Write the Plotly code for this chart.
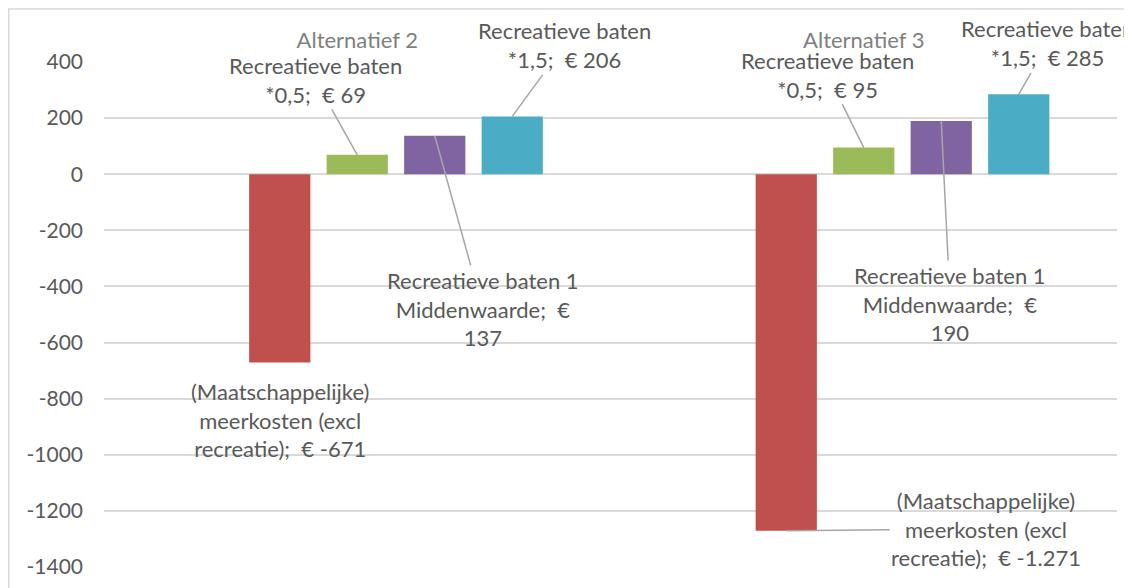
import plotly.graph_objects as go

categories = ["Alternatief 2", "Alternatief 3"]
series_names = ["", "(Maatschappelijke) meerkosten (excl recreatie)", "Recreatieve baten *0,5",
                "Recreatieve baten 1 Middenwaarde", "Recreatieve baten *1,5"]
empty_vals = [None, None]
meerkosten = [-671, -1271]
baten_05 = [69, 95]
baten_mid = [137, 190]
baten_15 = [206, 285]
label_meerkosten = ["(Maatschappelijke)<br>meerkosten (excl<br>recreatie);\u00a0 € -671",
                    "(Maatschappelijke)<br>meerkosten (excl<br>recreatie);\u00a0 € -1.271"]
label_05 = ["Recreatieve baten<br>*0,5;\u00a0 € 69", "Recreatieve baten<br>*0,5;\u00a0 € 95"]
label_mid = ["Recreatieve baten 1<br>Middenwaarde;\u00a0 €<br>137", "Recreatieve baten 1<br>Middenwaarde;\u00a0 €<br>190"]
label_15 = ["Recreatieve baten<br>*1,5;\u00a0 € 206", "Recreatieve baten<br>*1,5;\u00a0 € 285"]
y_ticks = [400, 200, 0, -200, -400, -600, -800, -1000, -1200, -1400]

colors = ["rgba(0,0,0,0)", "#C0504D", "#9BBB59", "#8064A2", "#4BACC6"]
series = [empty_vals, meerkosten, baten_05, baten_mid, baten_15]

FONT = "Lato"
TXT = "#595959"
FS = 22
BARGAP = 0.235
GROUPGAP = 0.21
n = len(series)

ML, MT, MR, MB = 96, 54, 23, 29
PW, PH = 1132 - ML - MR, 588 - MT - MB

fig = go.Figure()
for i, vals in enumerate(series):
    fig.add_trace(go.Bar(x=categories, y=vals, name=series_names[i] or "leeg",
                         marker=dict(color=colors[i], line=dict(width=0)),
                         showlegend=False, hoverinfo="skip" if i == 0 else None))

slot = (1 - BARGAP) / n
def xoff(i):
    return -(1 - BARGAP) / 2 + slot * (i + 0.5)

annotations = []
specs = [
    (2, label_05, baten_05, [(-42, -75), (-36, -73)]),
    (3, label_mid, baten_mid, [(48, 173), (9, 183)]),
    (4, label_15, baten_15, [(52, -71), (29, -51)]),
]
for si, labels, vals, offs in specs:
    for ci in range(2):
        annotations.append(dict(x=ci + xoff(si), y=vals[ci], xref="x", yref="y",
                                text=labels[ci], showarrow=True, arrowhead=0,
                                arrowwidth=1.5, arrowcolor="#A6A6A6",
                                ax=offs[ci][0], ay=offs[ci][1], standoff=0,
                                font=dict(family=FONT, size=FS, color=TXT)))
annotations.append(dict(x=0 + xoff(1), y=meerkosten[0], xref="x", yref="y",
                        text=label_meerkosten[0], showarrow=False, yshift=-58,
                        font=dict(family=FONT, size=FS, color=TXT)))
annotations.append(dict(x=1 + xoff(1), y=meerkosten[1], xref="x", yref="y",
                        text=label_meerkosten[1], showarrow=True, arrowhead=0,
                        arrowwidth=1.5, arrowcolor="#A6A6A6", ax=200, ay=-2,
                        font=dict(family=FONT, size=FS, color=TXT)))

fig.update_layout(
    width=1132, height=588,
    margin=dict(l=ML, r=MR, t=MT, b=MB),
    paper_bgcolor="white", plot_bgcolor="white",
    barmode="group", bargap=BARGAP, bargroupgap=GROUPGAP,
    font=dict(family=FONT, size=FS, color=TXT),
    annotations=annotations,
    shapes=[dict(type="rect", xref="paper", yref="paper",
                 x0=(0.75 - ML) / PW, x1=1.3, y0=-0.3, y1=1 + (MT - 1) / PH,
                 line=dict(color="#D9D9D9", width=1.5), fillcolor="rgba(0,0,0,0)",
                 layer="below")],
)
fig.update_xaxes(side="top", showgrid=False, showline=False, ticks="", automargin=False,
                 range=[-0.5, len(categories) - 0.5],
                 tickfont=dict(family=FONT, size=FS, color="#7F7F7F"),
                 ticklabelstandoff=9)
fig.update_yaxes(range=[-1400, 400], tickvals=y_ticks, ticktext=[str(v) for v in y_ticks],
                 showgrid=True, gridcolor="#D9D9D9", gridwidth=1.5, automargin=False,
                 zeroline=True, zerolinecolor="#D9D9D9", zerolinewidth=1.5,
                 showline=False, ticks="", ticklabelstandoff=20,
                 tickfont=dict(family=FONT, size=21, color=TXT))

fig.write_html("out.html")
